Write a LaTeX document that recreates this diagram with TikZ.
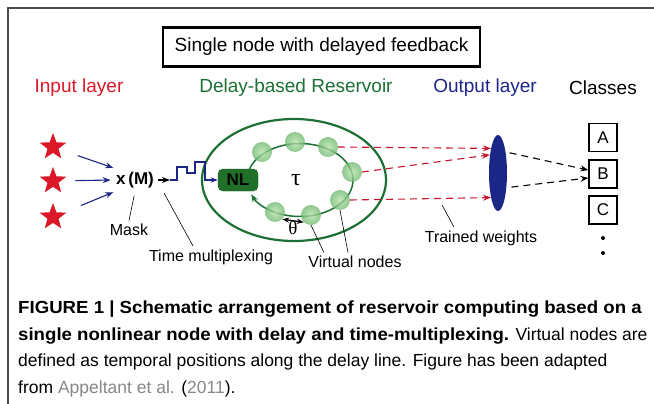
\documentclass[tikz,border=0pt]{standalone}
\usepackage{fontspec}
\setmainfont{Liberation Sans}
\newfontfamily\greekfont{Liberation Serif}
\usetikzlibrary{shapes.geometric,arrows.meta,positioning}

\definecolor{inred}{RGB}{218,24,40}
\definecolor{resgreen}{RGB}{28,112,52}
\definecolor{outblue}{RGB}{28,38,135}
\definecolor{dashred}{RGB}{200,20,45}
\definecolor{linkgray}{RGB}{135,135,135}

\newcommand\capbf[1]{{\bfseries\addfontfeatures{FakeStretch=1.065}#1}}

\tikzset{
  layer/.style={font=\fontsize{19}{22}\selectfont},
  note/.style={font=\fontsize{16}{19}\selectfont},
  input/.style={star,star points=5,star point ratio=2.4,fill=inred,minimum size=28,inner sep=0},
  vnode/.style={circle,minimum size=20,inner sep=0,shading=radial,inner color={rgb,255:red,180;green,224;blue,170},outer color={rgb,255:red,110;green,184;blue,110},opacity=0.78},
  class/.style={draw,line width=1.2,minimum size=28,inner sep=0,font=\fontsize{17}{20}\selectfont},
  pointer/.style={black,line width=0.6},
  reddash/.style={dashred,dashed,dash pattern=on 7pt off 5pt,line width=1.1,-{Stealth[length=8pt]}},
  blackdash/.style={black,dashed,dash pattern=on 7pt off 5pt,line width=1.1,-{Stealth[length=8pt]}},
}

\begin{document}
\begin{tikzpicture}[x=1pt,y=-1pt]
\useasboundingbox (0,0) rectangle (654,404);
\draw[gray!60!black,line width=1.2](654,8)--(8,8)--(8,404);

\node[draw,line width=2.2,minimum width=317,minimum height=39,font=\fontsize{19}{22}\selectfont](title) at (321.5,47){Single node with delayed feedback};

\node[layer,text=inred](hin) at (79,88){Input layer};
\node[layer,text=resgreen](hres) at (296,88){Delay-based Reservoir};
\node[layer,text=outblue](hout) at (485,88){Output layer};
\node[layer](hcls) at (603,88){Classes};

% input layer and mask
\foreach \i/\y in {1/147,2/181,3/217}
  \node[input](s\i) at (53,\y){};
\node[font=\bfseries\fontsize{17}{20}\selectfont](mask) at (135,180){x\,(M)};
\draw[outblue,line width=1.1,-{Stealth[length=8pt]},shorten <=20,shorten >=2](s1)--(mask.150);
\draw[outblue,line width=1.1,-{Stealth[length=8pt]},shorten <=14,shorten >=2](s2)--(mask.west);
\draw[outblue,line width=1.1,-{Stealth[length=8pt]},shorten <=18,shorten >=2](s3)--(mask.210);

% reservoir
\draw[resgreen,line width=2.2](294,180) ellipse [x radius=92,y radius=61];
\draw[resgreen,line width=1.5,-{Stealth[length=8pt]}](300,180) ++(190:53 and 36.5)
  arc[start angle=190,end angle=517,x radius=53,y radius=36.5];
\node[rounded corners=5,fill={rgb,255:red,32;green,112;blue,42},draw={rgb,255:red,20;green,85;blue,30},minimum width=40,minimum height=22,font=\bfseries\fontsize{17}{19}\selectfont](nl) at (238,180){NL};
\coordinate (sig) at (170,180);
\draw[line width=1.1,-{Stealth[length=8pt]},shorten <=1](mask)--(sig);
\draw[outblue,line width=1.1,-{Stealth[length=7pt]}](sig)--(177,180)--(177,167)--(187,167)--(187,173)--(195,173)--(195,162)--(205,162)--(205,180)--(nl);
\foreach \i/\x/\y in {1/262/152,2/295/142,3/328/147,4/352/172,5/340/200,6/311/215,7/275/212}
  \node[vnode](v\i) at (\x,\y){};
\node[font=\greekfont\fontsize{24}{26}\selectfont](tau) at (296,180){τ};
\draw[line width=1.3,{Stealth[length=7pt]}-{Stealth[length=7pt]}](v7.south east)--(v6.south west);
\node[font=\greekfont\fontsize{19}{21}\selectfont](theta) at (293,228){θ};

% output layer
\node[ellipse,fill=outblue,minimum width=18,minimum height=76,inner sep=0](out) at (498,173){};
\draw[reddash](v3.east)--(out.106);
\draw[reddash](v4.east)--(out.114);
\draw[reddash](v5.east)--(out.254);

% classes
\node[class](ca) at (603,137.5){A};
\node[class](cb) at (603,174){B};
\node[class](cc) at (603,210){C};
\fill (603,238) circle (2);
\fill (603,253) circle (2);
\draw[blackdash,shorten <=4](out.70)--(cb.165);
\draw[blackdash,shorten <=5](out.300)--(cb.195);

% annotations
\node[note](masktxt) at (129,230){Mask};
\draw[pointer,shorten >=4](masktxt.north)--(mask.south);
\node[note](tm) at (211,257){Time multiplexing};
\coordinate (tmtip) at (164,193);
\draw[pointer]([xshift=-18pt]tm.north)--(tmtip);
\node[note](vn) at (355,262){Virtual nodes};
\draw[pointer]([xshift=-31pt]vn.north)--(v6.south);
\draw[pointer]([xshift=-7pt]vn.north)--(v5.south);
\node[note](tw) at (481,238){Trained weights};
\coordinate (twtip) at (442,205);
\draw[pointer]([xshift=-27pt]tw.north)--(twtip);

\node[anchor=north west,align=left,inner sep=0,font=\fontsize{17.5}{26.5}\selectfont](caption) at (18,301){%
\capbf{FIGURE 1 \textbar{} Schematic arrangement of reservoir computing based on a}\\
\capbf{single nonlinear node with delay and time-multiplexing.} Virtual nodes are\\
defined as temporal positions along the delay line. Figure has been adapted\\
from \textcolor{linkgray}{Appeltant et al.} (\textcolor{linkgray}{2011}).};
\end{tikzpicture}
\end{document}
